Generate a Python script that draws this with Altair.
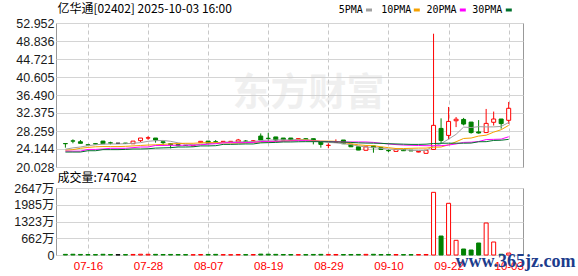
import altair as alt
import pandas as pd

# ---------------- data ----------------
dates = ["07-11", "07-14", "07-15", "07-16", "07-17", "07-18", "07-21", "07-22", "07-23", "07-24",
         "07-25", "07-28", "07-29", "07-30", "07-31", "08-01", "08-04", "08-05", "08-06", "08-07",
         "08-08", "08-11", "08-12", "08-13", "08-14", "08-15", "08-18", "08-19", "08-20", "08-21",
         "08-22", "08-25", "08-26", "08-27", "08-28", "08-29", "09-01", "09-02", "09-03", "09-04",
         "09-05", "09-08", "09-09", "09-10", "09-11", "09-12", "09-15", "09-16", "09-17", "09-18",
         "09-19", "09-22", "09-23", "09-24", "09-25", "09-26", "09-29", "09-30", "10-02", "10-03"]

opens = [25.40, 26.00, 25.80, 25.10, 25.35, 25.95, 25.55, 25.45, 25.50, 25.35,
         26.05, 26.65, 26.65, 25.80, 25.35, 25.15, 25.00, 24.85, 25.60, 25.95,
         25.80, 25.85, 25.85, 25.75, 25.95, 25.95, 27.10, 26.60, 26.90, 26.65,
         26.65, 26.45, 26.50, 26.50, 25.75, 24.95, 25.70, 26.20, 25.20, 24.65,
         23.85, 24.85, 24.50, 23.80, 23.60, 24.05, 23.85, 23.45, 23.15, 24.05,
         28.85, 27.25, 30.60, 30.90, 30.30, 28.05, 27.90, 30.25, 31.00, 30.70]
highs = [25.40, 26.35, 26.20, 25.15, 25.40, 26.00, 25.80, 25.50, 25.50, 25.95,
         26.65, 27.05, 26.65, 25.80, 25.35, 25.15, 25.05, 25.00, 25.90, 25.95,
         26.20, 25.90, 25.90, 26.45, 26.20, 26.20, 27.70, 27.85, 26.90, 26.65,
         26.65, 26.60, 26.55, 26.50, 25.75, 25.45, 26.35, 26.20, 25.20, 24.65,
         24.65, 24.85, 24.50, 24.05, 24.35, 24.05, 23.85, 23.70, 23.85, 50.50,
         31.15, 33.75, 31.45, 31.25, 30.30, 30.75, 33.30, 32.70, 31.00, 34.90]
lows = [24.45, 25.45, 25.45, 25.00, 25.25, 25.35, 25.20, 25.40, 25.40, 25.35,
        25.75, 26.25, 25.60, 24.85, 24.30, 24.80, 24.95, 24.80, 25.60, 25.45,
        25.60, 25.85, 25.85, 25.75, 25.85, 25.95, 26.20, 25.95, 25.95, 26.20,
        26.20, 26.40, 26.30, 25.20, 24.45, 24.30, 25.70, 25.35, 24.65, 23.90,
        23.85, 23.30, 23.90, 23.45, 23.60, 23.75, 23.70, 23.40, 23.15, 24.00,
        25.35, 26.35, 29.15, 29.55, 27.65, 27.65, 27.80, 29.50, 28.80, 29.90]
closes = [25.35, 25.95, 25.45, 25.05, 25.30, 25.35, 25.50, 25.45, 25.40, 25.95,
          26.65, 26.70, 26.20, 25.60, 25.15, 24.90, 24.95, 25.00, 25.90, 25.45,
          25.75, 25.90, 25.90, 26.20, 25.90, 26.00, 26.20, 26.55, 26.20, 26.20,
          26.20, 26.50, 26.30, 25.95, 25.20, 25.00, 25.75, 25.35, 24.65, 23.90,
          24.65, 24.45, 24.05, 23.75, 24.05, 23.75, 23.70, 23.60, 23.85, 29.55,
          26.10, 30.45, 30.95, 29.85, 27.90, 27.80, 30.00, 31.00, 29.95, 33.45]

# volume in 万 shares
volumes = [25, 30, 22, 18, 15, 28, 20, 12, 15, 22,
           30, 28, 25, 20, 22, 18, 15, 12, 20, 22,
           25, 15, 12, 20, 15, 18, 35, 32, 25, 20,
           18, 15, 15, 22, 25, 22, 20, 18, 20, 22,
           25, 28, 18, 20, 18, 15, 15, 18, 20, 2476,
           750, 2042, 580, 237, 197, 474, 1264, 513, 30, 74.7]

ma5 = [24.10, 24.40, 24.60, 24.90, 25.10, 25.25, 25.30, 25.30, 25.35, 25.45,
       25.60, 25.90, 26.05, 26.10, 25.90, 25.55, 25.30, 25.10, 25.20, 25.35,
       25.50, 25.70, 25.75, 25.75, 25.80, 25.85, 26.05, 26.20, 26.20, 26.25,
       26.20, 26.35, 26.30, 26.10, 25.85, 25.65, 25.55, 25.35, 25.15, 24.85,
       24.60, 24.50, 24.30, 24.15, 24.05, 24.00, 23.85, 23.80, 23.80, 24.85,
       25.35, 26.40, 27.50, 29.15, 29.05, 29.25, 29.20, 29.20, 29.30, 30.20]
ma10 = [23.85, 24.00, 24.30, 24.50, 24.65, 24.70, 24.70, 24.70, 24.75, 24.85,
        24.95, 25.05, 25.10, 25.20, 25.30, 25.40, 25.45, 25.45, 25.55, 25.60,
        25.60, 25.55, 25.50, 25.50, 25.55, 25.65, 25.75, 25.80, 25.85, 25.95,
        26.05, 26.15, 26.20, 26.05, 25.95, 25.95, 25.90, 25.65, 25.35, 25.10,
        24.95, 24.90, 24.65, 24.45, 24.25, 24.25, 24.30, 24.35, 24.35, 24.55,
        24.60, 25.10, 25.80, 26.55, 26.65, 27.10, 27.30, 28.00, 28.55, 29.55]
ma20 = [23.65, 23.65, 23.65, 24.05, 24.05, 24.15, 24.30, 24.30, 24.30, 24.45,
        24.60, 24.60, 24.95, 24.95, 24.98, 25.00, 25.00, 25.00, 25.10, 25.25,
        25.35, 25.55, 25.60, 25.60, 25.60, 25.65, 25.85, 25.90, 25.90, 25.95,
        26.00, 26.05, 26.05, 25.95, 25.90, 25.85, 25.80, 25.75, 25.75, 25.75,
        25.75, 25.65, 25.45, 25.30, 25.15, 25.05, 25.00, 24.95, 24.90, 24.90,
        24.90, 25.05, 25.30, 25.65, 25.70, 25.85, 26.30, 26.35, 26.40, 26.95]
ma30 = [23.45, 23.45, 23.45, 23.75, 23.75, 24.00, 24.00, 24.00, 24.05, 24.15,
        24.15, 24.20, 24.35, 24.40, 24.45, 24.60, 24.60, 24.65, 24.85, 24.85,
        24.90, 25.20, 25.20, 25.25, 25.30, 25.30, 25.55, 25.60, 25.65, 25.75,
        25.75, 25.80, 25.82, 25.82, 25.82, 25.80, 25.75, 25.72, 25.65, 25.55,
        25.50, 25.48, 25.44, 25.35, 25.30, 25.25, 25.20, 25.20, 25.25, 25.40,
        25.45, 25.47, 25.47, 25.47, 25.50, 25.80, 25.82, 26.10, 26.15, 26.35]

price_ticks = [20.028, 24.144, 28.259, 32.375, 36.490, 40.605, 44.721, 48.836, 52.952]
volume_ticks = [0, 662, 1323, 1985, 2647]
label_days = [3, 11, 19, 27, 35, 43, 51, 59]
ma_names = ["5PMA", "10PMA", "20PMA", "30PMA"]
ma_colors = ["#a0a0a0", "#f5a000", "#ff00ff", "#00702c"]
title_text = "亿华通[02402] 2025-10-03 16:00"
volume_text = "成交量:747042"

# ---------------- frames ----------------
n = len(dates)
idx = list(range(n))


def direction(o, c):
    if c > o:
        return "up"
    if c < o:
        return "down"
    return "flat"


candles = pd.DataFrame({
    "idx": idx, "date": dates, "open": opens, "high": highs,
    "low": lows, "close": closes, "vol": volumes,
    "dir": [direction(o, c) for o, c in zip(opens, closes)],
})
ma_df = pd.DataFrame({
    "idx": idx * 4,
    "ma": sum([[m] * n for m in ma_names], []),
    "value": ma5 + ma10 + ma20 + ma30,
})

# ---------------- styling ----------------
RED, GREEN, BLACK = "#ff0000", "#008000", "#000000"
W = 467
H_MAIN = 144
H_VOL = 67
LABEL_FONT = "Liberation Sans, Noto Sans CJK SC"
CJK_FONT = "Noto Sans CJK SC"

x_scale = alt.Scale(domain=[-0.586, 60.24], nice=False, zero=False)
date_array = "[" + ",".join("'%s'" % d for d in dates) + "]"

x_main = alt.X("idx:Q", scale=x_scale, title=None,
               axis=alt.Axis(values=label_days, labels=False, ticks=False, domain=False,
                             grid=True, gridDash=[4, 3], gridColor="#c8c8c8", gridWidth=1))
x_vol = alt.X("idx:Q", scale=x_scale, title=None,
              axis=alt.Axis(values=label_days, labelExpr=date_array + "[datum.value]",
                            ticks=False, domain=False, labelFlush=False,
                            labelColor=RED, labelFont=LABEL_FONT, labelFontSize=11.5,
                            labelPadding=5,
                            grid=True, gridDash=[4, 3], gridColor="#c8c8c8", gridWidth=1))

y_price_scale = alt.Scale(domain=[20.028, 52.952], nice=False, zero=False)
y_price_axis = alt.Axis(values=price_ticks, format=".3f", ticks=False, domain=False,
                        grid=True, gridColor="#d4d4d4", gridWidth=1,
                        labelFont=LABEL_FONT, labelFontSize=12.5, labelColor="#1a1a1a",
                        labelPadding=2, labelOverlap=False)

dir_stroke = alt.Scale(domain=["up", "down", "flat"], range=[RED, GREEN, BLACK])
dir_fill = alt.Scale(domain=["up", "down", "flat"], range=["#ffffff", GREEN, BLACK])


def deco_text(text, x, y, align="left", **kw):
    return alt.Chart(pd.DataFrame({"t": [text]})).mark_text(
        align=align, baseline="middle", **kw
    ).encode(x=alt.value(x), y=alt.value(y), text="t:N")


# ---------------- main (price) panel ----------------
watermark = deco_text("东方财富", 252.5, 71, align="center", font=CJK_FONT, fontSize=38,
                      fontWeight="bold", color="#d0d0d0", opacity=0.32)

wicks = alt.Chart(candles).mark_rule(strokeWidth=1).encode(
    x=x_main,
    y=alt.Y("low:Q", scale=y_price_scale, axis=y_price_axis, title=None),
    y2="high:Q",
    stroke=alt.Stroke("dir:N", scale=dir_stroke, legend=None),
)
bodies = alt.Chart(candles).mark_bar(size=4, strokeWidth=1).encode(
    x=x_main,
    y=alt.Y("open:Q", scale=y_price_scale, axis=y_price_axis, title=None),
    y2="close:Q",
    fill=alt.Fill("dir:N", scale=dir_fill, legend=None),
    stroke=alt.Stroke("dir:N", scale=dir_stroke, legend=None),
)
ma_lines = alt.Chart(ma_df).mark_line(strokeWidth=1).encode(
    x=x_main,
    y=alt.Y("value:Q", scale=y_price_scale, axis=y_price_axis, title=None),
    color=alt.Color("ma:N", scale=alt.Scale(domain=ma_names, range=ma_colors), legend=None),
)

title = deco_text(title_text, 1.5, -14, font=CJK_FONT, fontSize=12, color="#000000")

legend_layers = []
legend_text_x = [282.8, 325.2, 370.5, 416.2]
legend_box_x = [310.0, 357.8, 403.8, 449.8]
for name, col, tx, bx in zip(ma_names, ma_colors, legend_text_x, legend_box_x):
    legend_layers.append(deco_text(name, tx, -13, font="DejaVu Sans Mono", fontSize=10,
                                   color="#000000"))
    legend_layers.append(
        alt.Chart(pd.DataFrame({"c": [col]})).mark_rect(color=col).encode(
            x=alt.value(bx), x2=alt.value(bx + 6), y=alt.value(-14.5), y2=alt.value(-11.5)
        )
    )

main = alt.layer(watermark, wicks, bodies, ma_lines, title, *legend_layers).properties(
    width=W, height=H_MAIN
)

# ---------------- volume panel ----------------
vol_bars = alt.Chart(candles).mark_bar(size=4, strokeWidth=1).encode(
    x=x_vol,
    y=alt.Y("vol:Q", title=None, stack=None,
            scale=alt.Scale(domain=[0, 2647], nice=False, zero=True),
            axis=alt.Axis(values=volume_ticks,
                          labelExpr="datum.value == 0 ? '0' : datum.value + '万'",
                          ticks=False, domain=False, grid=True, gridColor="#d4d4d4",
                          gridWidth=1, labelFont=LABEL_FONT, labelFontSize=12.5,
                          labelColor="#1a1a1a", labelPadding=2, labelOverlap=False)),
    fill=alt.Fill("dir:N", scale=dir_fill, legend=None),
    stroke=alt.Stroke("dir:N", scale=dir_stroke, legend=None),
)
vol_label = deco_text(volume_text, 1.5, -10, font=CJK_FONT, fontSize=12, color="#000000")
site_mark = deco_text("www.365jz.com", 399.5, 74, font="Liberation Serif", fontSize=18,
                      fontWeight="bold", color="#1c3c8c")

vol = alt.layer(vol_bars, vol_label, site_mark).properties(width=W, height=H_VOL)

chart = alt.vconcat(main, vol, spacing=21, bounds="flush").properties(
    padding={"left": 13, "top": 2, "right": 0, "bottom": 0},
    background="#ffffff",
).configure_view(stroke="#999999", strokeWidth=1)

chart.save("out.html", embed_options={"renderer": "svg", "actions": False})
